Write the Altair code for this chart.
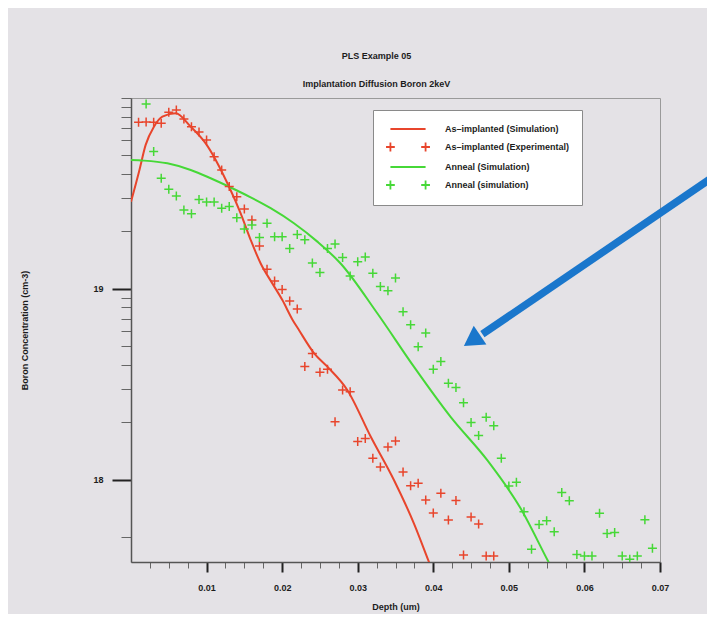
import altair as alt
import pandas as pd

# ---------------- text ----------------
chart_title = "PLS Example 05"
chart_subtitle = "Implantation Diffusion Boron  2keV"
x_title = "Depth (um)"
y_title = "Boron Concentration (cm-3)"

series_names = ["As–implanted (Simulation)", "As–implanted (Experimental)",
                "Anneal (Simulation)", "Anneal (simulation)"]
series_colors = ["#e8452c", "#e8452c", "#46d837", "#46d837"]

# ---------------- data (depth in um, concentration in cm^-3) ----------------
imp_sim_depth = [0.0, 0.00106, 0.00194, 0.00304, 0.00415, 0.00591, 0.0079, 0.00988,
                 0.01296, 0.01451, 0.01583, 0.01716, 0.0187, 0.02003, 0.02135, 0.02222,
                 0.02421, 0.02598, 0.02862, 0.03171, 0.03479, 0.03743, 0.03942, 0.0400]
imp_sim_conc = [2.86e19, 4.11e19, 5.68e19, 7.08e19, 7.98e19, 8.32e19, 7.08e19, 5.79e19,
                3.44e19, 2.49e19, 1.81e19, 1.36e19, 1.07e19, 8.75e18, 6.93e18, 6.10e18,
                4.62e18, 3.92e18, 2.96e18, 1.69e18, 1.00e18, 5.93e17, 3.73e17, 3.26e17]

imp_exp_depth = [0.001, 0.002, 0.003, 0.004, 0.005, 0.006, 0.007, 0.008, 0.009, 0.010,
                 0.011, 0.012, 0.013, 0.014, 0.015, 0.016, 0.017, 0.018, 0.019, 0.020,
                 0.021, 0.022, 0.023, 0.024, 0.025, 0.026, 0.027, 0.028, 0.029, 0.030,
                 0.031, 0.032, 0.033, 0.034, 0.035, 0.036, 0.037, 0.038, 0.039, 0.040,
                 0.041, 0.042, 0.043, 0.044, 0.045, 0.046, 0.047, 0.048]
imp_exp_conc = [7.46e19, 7.48e19, 7.46e19, 7.38e19, 8.41e19, 8.65e19, 7.76e19, 7.08e19, 6.64e19, 6.03e19,
                4.93e19, 4.20e19, 3.44e19, 3.04e19, 2.62e19, 2.30e19, 1.68e19, 1.27e19, 1.10e19, 9.95e18,
                8.65e18, 7.85e18, 3.93e18, 4.60e18, 3.67e18, 3.80e18, 2.02e18, 2.96e18, 2.90e18, 1.59e18,
                1.65e18, 1.30e18, 1.17e18, 1.49e18, 1.60e18, 1.10e18, 9.33e17, 9.62e17, 7.85e17, 6.71e17,
                8.51e17, 6.18e17, 7.80e17, 4.05e17, 6.40e17, 5.89e17, 4.00e17, 4.00e17]

ann_sim_depth = [0.0, 0.00172, 0.00481, 0.0079, 0.01054, 0.01319, 0.01583, 0.01848,
                 0.02156, 0.02466, 0.02774, 0.03259, 0.03743, 0.04229, 0.04714, 0.05155,
                 0.05525, 0.0560]
ann_sim_conc = [4.73e19, 4.70e19, 4.55e19, 4.20e19, 3.80e19, 3.40e19, 3.02e19, 2.65e19,
                2.21e19, 1.77e19, 1.36e19, 7.46e18, 3.92e18, 2.14e18, 1.27e18, 7.11e17,
                3.72e17, 3.27e17]

ann_exp_depth = [0.002, 0.003, 0.004, 0.005, 0.006, 0.007, 0.008, 0.009, 0.010, 0.011,
                 0.012, 0.013, 0.014, 0.015, 0.016, 0.017, 0.018, 0.019, 0.020, 0.021,
                 0.022, 0.023, 0.024, 0.025, 0.026, 0.027, 0.028, 0.029, 0.030, 0.031,
                 0.032, 0.033, 0.034, 0.035, 0.036, 0.037, 0.038, 0.039, 0.040, 0.041,
                 0.042, 0.043, 0.044, 0.045, 0.046, 0.047, 0.048, 0.049, 0.050, 0.051,
                 0.052, 0.053, 0.054, 0.055, 0.056, 0.057, 0.058, 0.059, 0.060, 0.061,
                 0.062, 0.063, 0.064, 0.065, 0.066, 0.067, 0.068, 0.069]
ann_exp_conc = [9.31e19, 5.25e19, 3.80e19, 3.33e19, 3.07e19, 2.59e19, 2.48e19, 2.94e19, 2.85e19, 2.85e19,
                2.65e19, 2.70e19, 2.36e19, 2.06e19, 2.16e19, 1.86e19, 2.21e19, 1.88e19, 1.88e19, 1.63e19,
                1.93e19, 1.81e19, 1.37e19, 1.22e19, 1.63e19, 1.72e19, 1.46e19, 1.17e19, 1.39e19, 1.47e19,
                1.21e19, 1.03e19, 9.79e18, 1.14e19, 7.60e18, 6.49e18, 4.99e18, 5.89e18, 3.80e18, 4.17e18,
                3.21e18, 3.05e18, 2.54e18, 2.00e18, 1.71e18, 2.13e18, 1.92e18, 1.30e18, 9.31e17, 9.73e17,
                6.82e17, 4.34e17, 5.85e17, 6.12e17, 5.36e17, 8.59e17, 7.78e17, 4.07e17, 4.00e17, 4.00e17,
                6.70e17, 5.24e17, 5.31e17, 4.00e17, 3.85e17, 4.00e17, 6.19e17, 4.39e17]

# annotation arrow (data coordinates): tail, head base, head centre
arrow_tail = (0.0774, 3.95e19)
arrow_base = (0.0465, 5.80e18)
arrow_head_center = (0.04512, 5.37e18)

# ---------------- ticks ----------------
x_tick_values = [round(0.0025 * i, 4) for i in range(1, 29)]
y_tick_values = [5e17, 1e18, 2e18, 3e18, 4e18, 5e18, 6e18, 7e18, 8e18, 9e18,
                 1e19, 2e19, 3e19, 4e19, 5e19, 6e19, 7e19, 8e19, 9e19, 1e20]
y_domain = [3.72e17, 1.0e20]
x_domain = [0.0, 0.07]

FONT = "Liberation Sans"
TXT = "#1c1c1c"
MAJ_X = "abs(datum.value*100 - round(datum.value*100)) < 0.001"
MAJ_Y = "datum.value == 1e18 || datum.value == 1e19"

x_axis = alt.Axis(
    values=x_tick_values,
    labelExpr=f"({MAJ_X}) ? format(datum.value, '.2f') : ''",
    tickSize={"condition": {"test": MAJ_X, "value": 10}, "value": 6},
    tickWidth={"condition": {"test": MAJ_X, "value": 2}, "value": 1},
    tickColor={"condition": {"test": MAJ_X, "value": "#222222"}, "value": "#666666"},
    domainColor="#555555", domainWidth=1.5, grid=False,
    labelFont=FONT, labelFontSize=9, labelFontWeight="bold", labelColor=TXT,
    labelPadding=11, labelFlush=False, labelOverlap=False,
    title=x_title, titleFont=FONT, titleFontSize=9, titleFontWeight="bold",
    titleColor=TXT, titlePadding=10,
)
y_axis = alt.Axis(
    values=y_tick_values,
    labelExpr="datum.value == 1e18 ? '18' : (datum.value == 1e19 ? '19' : '')",
    tickSize={"condition": {"test": MAJ_Y, "value": 19}, "value": 10},
    tickWidth={"condition": {"test": MAJ_Y, "value": 2}, "value": 1},
    tickColor={"condition": {"test": MAJ_Y, "value": "#222222"}, "value": "#666666"},
    domainColor="#555555", domainWidth=1.5, grid=False,
    labelFont=FONT, labelFontSize=9, labelFontWeight="bold", labelColor=TXT,
    labelPadding=9, labelFlush=False, labelOverlap=False,
    title=y_title, titleFont=FONT, titleFontSize=9, titleFontWeight="bold",
    titleColor=TXT, titlePadding=63,
)

X = alt.X("depth:Q", scale=alt.Scale(domain=x_domain, nice=False, zero=False), axis=x_axis)
Y = alt.Y("conc:Q", scale=alt.Scale(type="log", domain=y_domain, nice=False), axis=y_axis)
# stroke scale lists the series in reverse order so that it stays separate from the legend scales
stroke_enc = alt.Stroke("series:N",
                        scale=alt.Scale(domain=series_names[::-1], range=series_colors[::-1]),
                        legend=None)

lines_df = pd.concat([
    pd.DataFrame({"series": series_names[0], "depth": imp_sim_depth, "conc": imp_sim_conc}),
    pd.DataFrame({"series": series_names[2], "depth": ann_sim_depth, "conc": ann_sim_conc}),
])
points_df = pd.concat([
    pd.DataFrame({"series": series_names[1], "depth": imp_exp_depth, "conc": imp_exp_conc}),
    pd.DataFrame({"series": series_names[3], "depth": ann_exp_depth, "conc": ann_exp_conc}),
])

CROSS = "M-1,0L1,0M0,-1L0,1"
# legend symbols (unit = 6 px at symbolSize 144): a long line, or two crosses
LINE_SYM = "M-2.93,0L2.93,0"
CROSS2_SYM = "M-3.66,0L-2.2,0M-2.93,-0.73L-2.93,0.73M2.2,0L3.66,0M2.93,-0.73L2.93,0.73"
legend_shapes = [LINE_SYM, CROSS2_SYM, LINE_SYM, CROSS2_SYM]

lines = alt.Chart(lines_df).mark_line(strokeWidth=2, clip=True, interpolate="monotone").encode(
    x=X, y=Y, stroke=stroke_enc, detail="series:N")

points = alt.Chart(points_df).mark_point(
    shape=CROSS, filled=False, size=81, strokeWidth=1.5, opacity=1, clip=True
).encode(x=X, y=Y, stroke=stroke_enc)

legend = alt.Legend(
    title=None, orient="none", legendX=242, legendY=12, padding=12,
    symbolSize=144, symbolStrokeWidth=1.8, symbolOpacity=1, symbolOffset=16,
    labelFont=FONT, labelFontSize=9, labelFontWeight="bold", labelColor=TXT,
    labelOffset=30, rowPadding=5, fillColor="white", strokeColor="#8a8a8a",
    cornerRadius=0,
)
legend_df = pd.DataFrame({"series": series_names, "depth": [-1.0] * 4, "conc": [1e10] * 4})
legend_layer = alt.Chart(legend_df).mark_point(filled=False, clip=True, opacity=1, strokeWidth=1.8).encode(
    x=X, y=Y,
    color=alt.Color("series:N", scale=alt.Scale(domain=series_names, range=series_colors), legend=legend),
    shape=alt.Shape("series:N", scale=alt.Scale(domain=series_names, range=legend_shapes), legend=legend),
)

arrow_df = pd.DataFrame({"depth": [arrow_tail[0]], "conc": [arrow_tail[1]],
                         "depth2": [arrow_base[0]], "conc2": [arrow_base[1]]})
arrow_shaft = alt.Chart(arrow_df).mark_rule(strokeWidth=7.5, color="#1a77cc", strokeCap="butt").encode(
    x=X, y=Y, x2="depth2:Q", y2="conc2:Q")
head_df = pd.DataFrame({"depth": [arrow_head_center[0]], "conc": [arrow_head_center[1]]})
arrow_head = alt.Chart(head_df).mark_point(
    shape="triangle-up", filled=True, size=510, angle=235.8, color="#1a77cc", opacity=1, strokeWidth=0
).encode(x=X, y=Y)

chart = alt.layer(lines, points, legend_layer, arrow_shaft, arrow_head).properties(
    width=529, height=464,
    padding={"left": 123, "top": 90, "right": 47, "bottom": 52},
    autosize=alt.AutoSizeParams(type="none"),
    background="#e4e2e6",
    title=alt.Title(
        text=chart_title, subtitle=chart_subtitle, anchor="middle", dx=-19, offset=5,
        font=FONT, fontSize=9, fontWeight="bold", color=TXT,
        subtitleFont=FONT, subtitleFontSize=9, subtitleFontWeight="bold", subtitleColor=TXT,
        subtitlePadding=19,
    ),
).configure_view(stroke="#9a9a9a", strokeWidth=1)

chart.save("out.html", embed_options={"renderer": "svg", "actions": False})
